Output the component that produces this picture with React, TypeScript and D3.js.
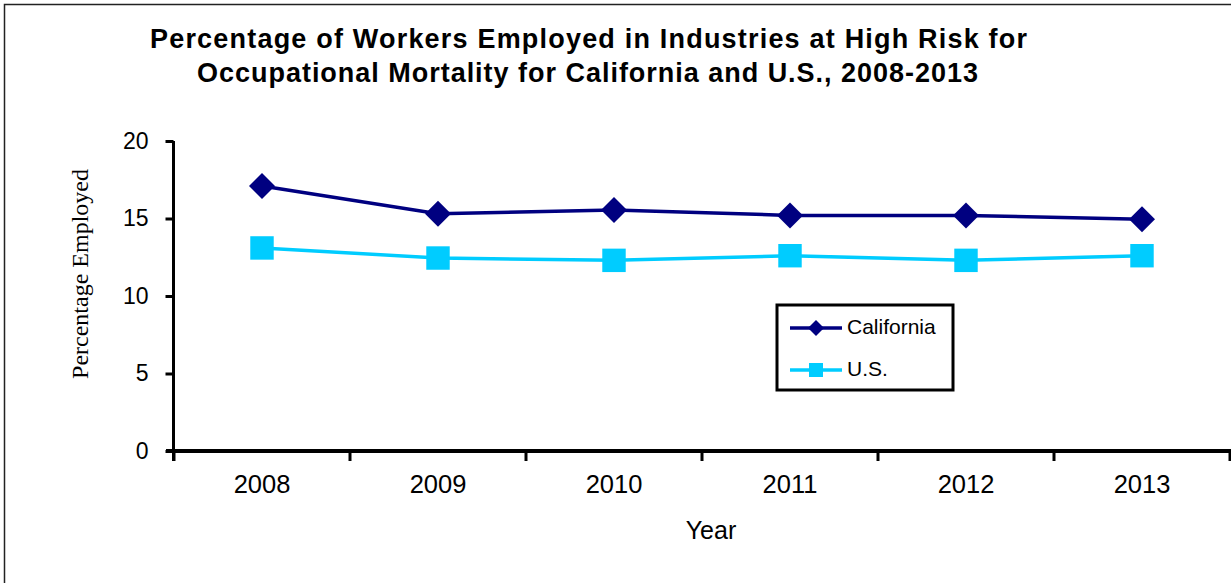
import React, { useEffect, useRef } from "react";
import * as d3 from "d3";

const years = ["2008", "2009", "2010", "2011", "2012", "2013"];
const california = [17.1, 15.3, 15.55, 15.2, 15.2, 14.95];
const us = [13.1, 12.45, 12.3, 12.6, 12.3, 12.6];
const yTicks = [0, 5, 10, 15, 20];

const W = 1231;
const H = 583;
const SANS = "Arial, 'Liberation Sans', sans-serif";

export default function App() {
  const ref = useRef<SVGSVGElement>(null);

  useEffect(() => {
    const svg = d3.select(ref.current);
    svg.selectAll("*").remove();

    // outer frame, runs off the right and bottom edges
    svg.append("rect")
      .attr("x", 4.5).attr("y", 4.5)
      .attr("width", W + 20).attr("height", H + 20)
      .attr("fill", "white").attr("stroke", "#222").attr("stroke-width", 1.5);

    const left = 174, right = 1230, top = 141, bottom = 451;

    const x = d3.scaleBand().domain(years).range([left, right]);
    const y = d3.scaleLinear().domain([0, 20]).range([bottom, top]);

    // title
    const title = svg.append("text")
      .attr("font-family", SANS)
      .attr("font-weight", "bold").attr("font-size", 27).attr("fill", "#000");
    title.append("tspan").attr("x", 150).attr("y", 48)
      .attr("textLength", 877).attr("lengthAdjust", "spacing")
      .text("Percentage of Workers Employed in Industries at High Risk for");
    title.append("tspan").attr("x", 197).attr("y", 82)
      .attr("textLength", 781).attr("lengthAdjust", "spacing")
      .text("Occupational Mortality for California and U.S., 2008-2013");

    // y axis
    const yAxis = svg.append("g")
      .attr("transform", `translate(${left - 0.5},0)`)
      .call(d3.axisLeft(y).tickValues(yTicks).tickSize(8).tickPadding(17));
    yAxis.select(".domain").attr("stroke", "#000").attr("stroke-width", 3)
      .attr("d", `M0,${top}V${bottom + 10}`);
    yAxis.selectAll(".tick line").attr("stroke", "#000").attr("stroke-width", 3);
    yAxis.selectAll(".tick text")
      .attr("font-family", SANS)
      .attr("font-size", 23).attr("fill", "#000");

    // x axis
    const xAxis = svg.append("g")
      .attr("transform", `translate(0,${bottom})`)
      .call(d3.axisBottom(x).tickSize(0).tickPadding(24));
    xAxis.select(".domain").attr("stroke", "#000").attr("stroke-width", 4)
      .attr("d", `M${left - 8},0H${right + 5}`);
    xAxis.selectAll(".tick text")
      .attr("font-family", SANS)
      .attr("font-size", 25.5).attr("fill", "#000");
    xAxis.selectAll(".sep")
      .data(years.concat(["end"]))
      .enter().append("line")
      .attr("class", "sep")
      .attr("x1", (d, i) => left + i * x.bandwidth())
      .attr("x2", (d, i) => left + i * x.bandwidth())
      .attr("y1", 0).attr("y2", 10)
      .attr("stroke", "#000").attr("stroke-width", 3);

    // axis titles
    svg.append("text")
      .attr("transform", `translate(88,274) rotate(-90)`)
      .attr("text-anchor", "middle")
      .attr("font-family", "'Liberation Serif', 'Times New Roman', serif")
      .attr("font-size", 24).attr("fill", "#000")
      .text("Percentage Employed");
    svg.append("text")
      .attr("x", 711).attr("y", 539)
      .attr("text-anchor", "middle")
      .attr("font-family", SANS)
      .attr("font-size", 25).attr("fill", "#000")
      .text("Year");

    const cx = (i: number) => (x(years[i]) as number) + x.bandwidth() / 2;
    const line = d3.line<number>().x((d, i) => cx(i)).y(d => y(d));

    const series = [
      { name: "California", values: california, color: "#000080", shape: "diamond" },
      { name: "U.S.", values: us, color: "#00CCFF", shape: "square" },
    ];

    const marker = (shape: string, big: boolean) =>
      shape === "diamond"
        ? d3.symbol(d3.symbolDiamond2, big ? 430 : 165)()
        : d3.symbol(d3.symbolSquare2, big ? 700 : 250)();

    series.forEach(s => {
      svg.append("path")
        .attr("d", line(s.values))
        .attr("fill", "none").attr("stroke", s.color).attr("stroke-width", 3.5);
      svg.selectAll(null)
        .data(s.values)
        .enter().append("path")
        .attr("transform", (d, i) => `translate(${cx(i)},${y(d)})`)
        .attr("d", marker(s.shape, true))
        .attr("fill", s.color);
    });

    // legend
    const lg = svg.append("g");
    lg.append("rect")
      .attr("x", 777).attr("y", 305).attr("width", 176).attr("height", 85)
      .attr("fill", "white").attr("stroke", "#000").attr("stroke-width", 3);
    series.forEach((s, i) => {
      const ly = 328 + i * 42;
      lg.append("line")
        .attr("x1", 790).attr("x2", 842).attr("y1", ly).attr("y2", ly)
        .attr("stroke", s.color).attr("stroke-width", 3.5);
      lg.append("path")
        .attr("transform", `translate(816,${ly})`)
        .attr("d", marker(s.shape, false))
        .attr("fill", s.color);
      lg.append("text")
        .attr("x", 847).attr("y", ly + 6)
        .attr("font-family", SANS)
        .attr("font-size", 21).attr("fill", "#000")
        .text(s.name);
    });
  }, []);

  return (
    <svg ref={ref} width={W} height={H}
      style={{ position: "absolute", left: 0, top: 0, background: "white" }} />
  );
}
